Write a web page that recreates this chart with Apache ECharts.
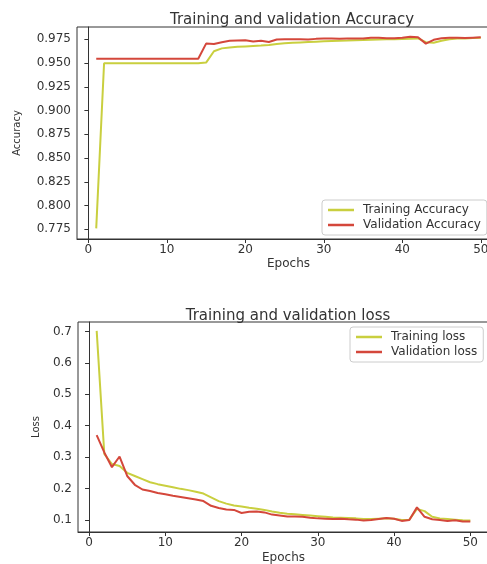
<!DOCTYPE html>
<html lang="en">
<head>
    <meta charset="UTF-8">
    <title>Training and validation</title>
    <script src="https://cdn.jsdelivr.net/npm/echarts@6/dist/echarts.min.js"></script>
    <style>
        html, body { margin: 0; padding: 0; background: #fff; }
    </style>
</head>
<body>
<div id="main" style="width: 487px;height:564px;"></div>
<script>
    // epochs 1..50
    var epochs = [];
    for (var i = 1; i <= 50; i++) { epochs.push(i); }

    // accuracy values
    var trainAcc = [0.776, 0.9498, 0.9498, 0.9498, 0.9498, 0.9498, 0.9498, 0.9498, 0.9498, 0.9498,
        0.9498, 0.9498, 0.9498, 0.9498, 0.9505, 0.9625, 0.9655, 0.9665, 0.9672, 0.9676,
        0.9680, 0.9684, 0.9690, 0.9700, 0.9708, 0.9714, 0.9718, 0.9722, 0.9726, 0.9730,
        0.9733, 0.9735, 0.9737, 0.9740, 0.9742, 0.9745, 0.9748, 0.9750, 0.9752, 0.9754,
        0.9757, 0.9760, 0.9720, 0.9715, 0.9735, 0.9752, 0.9758, 0.9760, 0.9764, 0.9768];
    var valAcc = [0.9545, 0.9545, 0.9545, 0.9545, 0.9545, 0.9545, 0.9545, 0.9545, 0.9545, 0.9545,
        0.9545, 0.9545, 0.9545, 0.9545, 0.9705, 0.9700, 0.9720, 0.9735, 0.9738, 0.9740,
        0.9728, 0.9735, 0.9722, 0.9748, 0.9752, 0.9752, 0.9750, 0.9748, 0.9755, 0.9758,
        0.9758, 0.9756, 0.9758, 0.9760, 0.9760, 0.9766, 0.9768, 0.9762, 0.9762, 0.9768,
        0.9778, 0.9772, 0.9705, 0.9745, 0.9762, 0.9768, 0.9766, 0.9764, 0.9768, 0.9772];

    // loss values
    var trainLoss = [0.702, 0.310, 0.278, 0.272, 0.250, 0.240, 0.230, 0.220, 0.214, 0.209,
        0.204, 0.199, 0.195, 0.190, 0.184, 0.172, 0.160, 0.152, 0.146, 0.143,
        0.139, 0.136, 0.132, 0.127, 0.123, 0.120, 0.118, 0.116, 0.114, 0.112,
        0.110, 0.108, 0.107, 0.106, 0.105, 0.103, 0.103, 0.104, 0.105, 0.104,
        0.100, 0.101, 0.135, 0.128, 0.110, 0.105, 0.103, 0.101, 0.099, 0.098];
    var valLoss = [0.370, 0.315, 0.268, 0.302, 0.240, 0.212, 0.197, 0.192, 0.186, 0.182,
        0.177, 0.173, 0.169, 0.165, 0.160, 0.145, 0.138, 0.133, 0.132, 0.122,
        0.126, 0.127, 0.124, 0.117, 0.114, 0.111, 0.111, 0.110, 0.107, 0.105,
        0.104, 0.103, 0.104, 0.102, 0.101, 0.098, 0.100, 0.103, 0.106, 0.104,
        0.097, 0.100, 0.140, 0.110, 0.102, 0.100, 0.097, 0.099, 0.095, 0.095];

    // tick labels
    var xTicks = [0, 10, 20, 30, 40, 50];
    var accTicks = [0.775, 0.800, 0.825, 0.850, 0.875, 0.900, 0.925, 0.950, 0.975];
    var lossTicks = [0.1, 0.2, 0.3, 0.4, 0.5, 0.6, 0.7];

    var trainColor = '#c9cf3f';
    var valColor = '#d4473b';
    var font = 'DejaVu Sans';
    var txt = '#333';

    function pairs(ys) {
        return ys.map(function (v, i) { return [epochs[i], v]; });
    }

    function xAxisCfg(idx, gap) {
        return {
            type: 'value', gridIndex: idx, min: -1.45, max: 52.45,
            name: 'Epochs', nameLocation: 'middle', nameGap: gap,
            nameTextStyle: { fontFamily: font, fontSize: 12, color: txt },
            axisLine: { show: true, lineStyle: { color: '#333', width: 1 } },
            axisTick: { show: true, length: 4, customValues: xTicks, lineStyle: { color: '#333' } },
            axisLabel: { customValues: xTicks, fontFamily: font, fontSize: 12, color: txt, margin: 5 },
            splitLine: { show: false }
        };
    }

    function yAxisCfg(idx, name, gap, min, max, ticks, dec) {
        return {
            type: 'value', gridIndex: idx, min: min, max: max,
            name: name, nameLocation: 'middle', nameGap: gap, nameRotate: 90,
            nameTextStyle: { fontFamily: font, fontSize: 10, color: txt },
            axisLine: { show: true, lineStyle: { color: '#333', width: 1 } },
            axisTick: { show: true, length: 4, customValues: ticks, lineStyle: { color: '#333' } },
            axisLabel: {
                customValues: ticks, fontFamily: font, fontSize: 12, color: txt, margin: 6,
                formatter: function (v) { return v.toFixed(dec); }
            },
            splitLine: { show: false }
        };
    }

    function lineSeries(name, idx, ys, color) {
        return {
            name: name, type: 'line', xAxisIndex: idx, yAxisIndex: idx,
            data: pairs(ys), symbol: 'none', color: color,
            lineStyle: { color: color, width: 2 }
        };
    }

    var legendBase = {
        orient: 'vertical', icon: 'rect', itemWidth: 26, itemHeight: 2.5, itemGap: 3,
        backgroundColor: '#fff', borderColor: '#ccc', borderWidth: 1, borderRadius: 3,
        padding: [4, 6, 4, 6],
        textStyle: { fontFamily: font, fontSize: 12, color: txt, padding: [0, 0, 0, 4] }
    };

    var myChart = echarts.init(document.getElementById('main'));
    var option = {
        animation: false,
        backgroundColor: '#fff',
        title: [
            { text: 'Training and validation Accuracy', left: 287, top: 8, textAlign: 'center',
              textStyle: { fontFamily: font, fontSize: 15, fontWeight: 'normal', color: txt } },
            { text: 'Training and validation loss', left: 283, top: 304, textAlign: 'center',
              textStyle: { fontFamily: font, fontSize: 15, fontWeight: 'normal', color: txt } }
        ],
        grid: [
            { left: 77, top: 27, width: 423, height: 212, show: true, borderColor: '#333', borderWidth: 1,
              outerBoundsMode: 'none' },
            { left: 78, top: 322, width: 411, height: 210, show: true, borderColor: '#333', borderWidth: 1,
              outerBoundsMode: 'none' }
        ],
        xAxis: [xAxisCfg(0, 19), xAxisCfg(1, 20)],
        yAxis: [
            yAxisCfg(0, 'Accuracy', 55, 0.7648, 0.988, accTicks, 3),
            yAxisCfg(1, 'Loss', 37, 0.0616, 0.7304, lossTicks, 1)
        ],
        legend: [
            Object.assign({}, legendBase, { left: 322, top: 200, data: ['Training Accuracy', 'Validation Accuracy'] }),
            Object.assign({}, legendBase, { left: 350, top: 327, data: ['Training loss', 'Validation loss'] })
        ],
        series: [
            lineSeries('Training Accuracy', 0, trainAcc, trainColor),
            lineSeries('Validation Accuracy', 0, valAcc, valColor),
            lineSeries('Training loss', 1, trainLoss, trainColor),
            lineSeries('Validation loss', 1, valLoss, valColor)
        ]
    };
    myChart.setOption(option);
</script>
</body>
</html>
